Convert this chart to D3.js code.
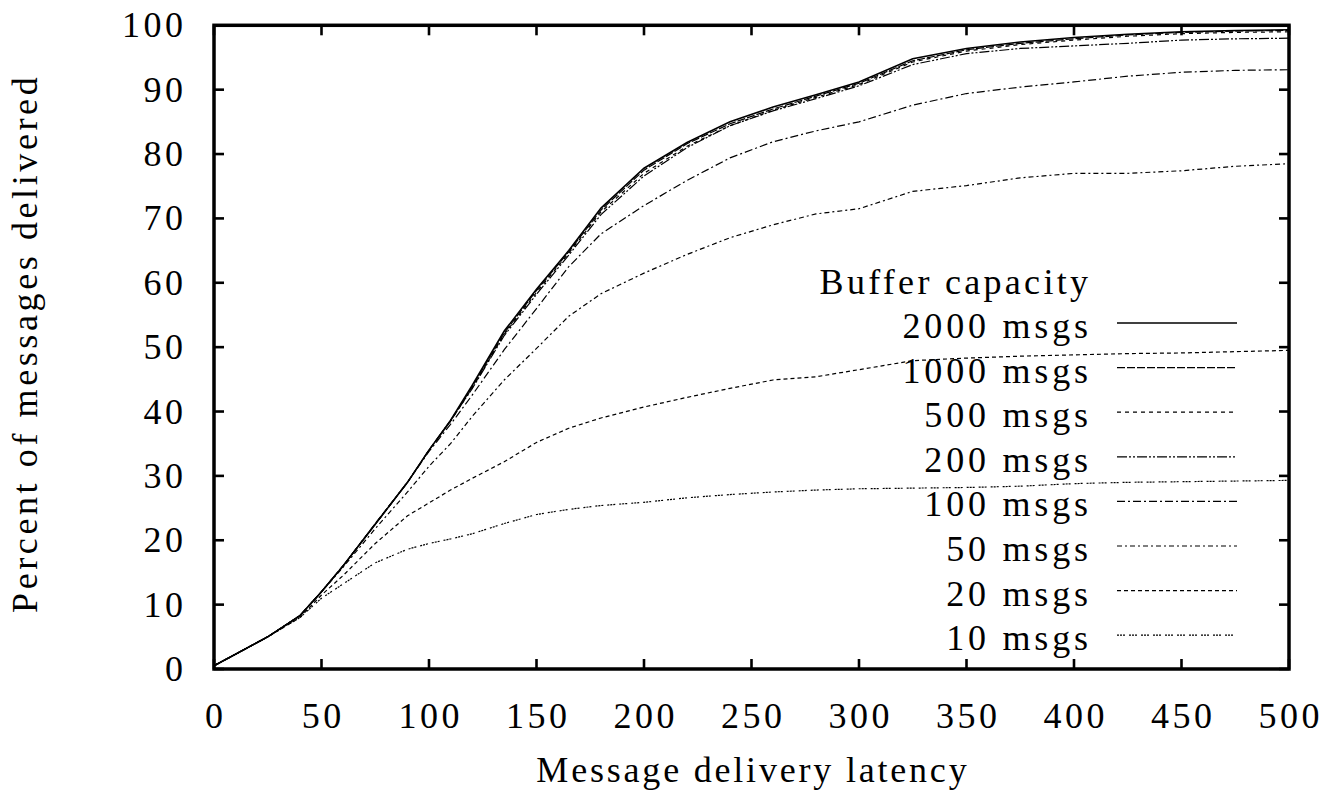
<!DOCTYPE html>
<html>
<head>
<meta charset="utf-8">
<script src="https://cdn.jsdelivr.net/npm/d3@7"></script>
<style>
  html, body { margin: 0; padding: 0; background: #fff; }
</style>
</head>
<body>
<svg id="chart" width="1335" height="804"></svg>
<script>
// ---- Data ----
const latency = [0, 10, 25, 40, 50, 60, 75, 90, 100, 110, 120, 135, 150, 165, 180, 200, 220, 240, 260, 280, 300, 325, 350, 375, 400, 425, 450, 475, 500];

const buf2000 = [0.5, 2.3, 5.0, 8.3, 12.0, 16.0, 22.5, 29.0, 34.0, 38.6, 44.0, 52.5, 59.0, 65.0, 71.6, 77.8, 81.8, 85.0, 87.3, 89.2, 91.2, 94.8, 96.4, 97.4, 98.1, 98.6, 99.0, 99.2, 99.3];
const buf1000 = [0.5, 2.3, 5.0, 8.3, 12.0, 16.0, 22.6, 29.0, 34.0, 38.5, 43.8, 52.2, 58.8, 64.8, 71.3, 77.5, 81.6, 84.7, 87.0, 89.0, 91.0, 94.5, 96.2, 97.2, 97.9, 98.5, 98.9, 99.1, 99.2];
const buf500  = [0.5, 2.3, 5.0, 8.3, 12.0, 16.0, 22.5, 29.0, 34.0, 38.5, 43.6, 52.0, 58.5, 64.6, 71.0, 77.0, 81.2, 84.4, 86.8, 88.8, 90.8, 94.3, 96.0, 97.0, 97.7, 98.3, 98.7, 98.9, 99.0];
const buf200  = [0.5, 2.3, 5.0, 8.3, 12.0, 16.0, 22.5, 29.0, 34.0, 38.6, 43.5, 51.8, 58.2, 64.3, 70.6, 76.6, 81.0, 84.4, 86.7, 88.6, 90.6, 93.9, 95.6, 96.4, 96.8, 97.2, 97.7, 97.9, 98.0];
const buf100  = [0.5, 2.3, 5.0, 8.3, 12.0, 16.0, 22.5, 29.0, 33.8, 38.0, 42.5, 49.6, 56.0, 62.5, 67.6, 72.0, 75.9, 79.4, 81.9, 83.6, 85.0, 87.6, 89.4, 90.4, 91.2, 92.1, 92.7, 93.0, 93.1];
const buf50   = [0.5, 2.3, 5.0, 8.3, 12.0, 15.8, 21.8, 27.5, 31.5, 35.0, 39.2, 44.9, 49.8, 54.8, 58.3, 61.5, 64.4, 67.0, 69.0, 70.7, 71.5, 74.2, 75.1, 76.3, 77.0, 77.0, 77.4, 78.1, 78.5];
const buf20   = [0.5, 2.3, 5.0, 8.0, 11.5, 14.5, 19.5, 23.8, 25.8, 27.8, 29.6, 32.2, 35.2, 37.4, 39.0, 40.7, 42.2, 43.6, 44.9, 45.4, 46.5, 47.9, 48.3, 48.6, 48.8, 49.0, 49.1, 49.3, 49.5];
const buf10   = [0.5, 2.3, 5.0, 8.0, 11.0, 13.2, 16.5, 18.6, 19.5, 20.2, 21.0, 22.6, 24.0, 24.8, 25.4, 25.9, 26.6, 27.1, 27.5, 27.8, 28.0, 28.1, 28.2, 28.4, 28.8, 29.0, 29.1, 29.2, 29.3];

const seriesNames = ["2000 msgs", "1000 msgs", "500 msgs", "200 msgs", "100 msgs", "50 msgs", "20 msgs", "10 msgs"];
const seriesValues = [buf2000, buf1000, buf500, buf200, buf100, buf50, buf20, buf10];
const xTicks = [0, 50, 100, 150, 200, 250, 300, 350, 400, 450, 500];
const yTicks = [0, 10, 20, 30, 40, 50, 60, 70, 80, 90, 100];
const legendTitle = "Buffer capacity";
const xTitle = "Message delivery latency";
const yTitle = "Percent of messages delivered";

(function () {
  // ---- Styles ----
  const dashes = [null, "8,2", "4,4", "10,2,2,2,2,2", "8,3,2,3", "5,3,2,3", "4,3", "2,1,2,1,2,4"];
  const FONT = '"Liberation Serif"';

  // ---- Layout ----
  const svg = d3.select("#chart");
  const pL = 214, pR = 1289, pT = 25.3, pB = 669;
  const x = d3.scaleLinear().domain([0, 500]).range([pL, pR]);
  const y = d3.scaleLinear().domain([0, 100]).range([pB, pT]);
  const fontSize = 36;

  svg.append("defs").append("clipPath").attr("id", "clip")
    .append("rect").attr("x", pL).attr("y", pT).attr("width", pR - pL).attr("height", pB - pT);

  // curves
  const line = d3.line().x(d => x(d[0])).y(d => y(d[1]));
  const gCurves = svg.append("g").attr("clip-path", "url(#clip)");
  seriesValues.forEach((vals, i) => {
    const pts = latency.map((t, k) => [t, vals[k]]);
    gCurves.append("path")
      .attr("d", line(pts))
      .attr("fill", "none")
      .attr("stroke", "#000")
      .attr("stroke-width", i === 0 ? 1.6 : 1.2)
      .attr("stroke-dasharray", dashes[i]);
  });

  // ticks (inward, mirrored)
  const tickLen = 10;
  const gT = svg.append("g").attr("stroke", "#000").attr("stroke-width", 2.6);
  xTicks.forEach(t => {
    gT.append("line").attr("x1", x(t)).attr("x2", x(t)).attr("y1", pB).attr("y2", pB - tickLen);
    gT.append("line").attr("x1", x(t)).attr("x2", x(t)).attr("y1", pT).attr("y2", pT + tickLen);
  });
  yTicks.forEach(v => {
    gT.append("line").attr("x1", pL).attr("x2", pL + tickLen).attr("y1", y(v)).attr("y2", y(v));
    gT.append("line").attr("x1", pR).attr("x2", pR - tickLen).attr("y1", y(v)).attr("y2", y(v));
  });

  // border
  svg.append("rect").attr("x", pL).attr("y", pT).attr("width", pR - pL).attr("height", pB - pT)
    .attr("fill", "none").attr("stroke", "#000").attr("stroke-width", 3.5);

  // text helper: serif font, widened by spreading glyphs with textLength
  function txt(sel, s, gap) {
    sel.style("font-family", FONT).attr("font-size", fontSize).attr("fill", "#000").text(s);
    const n = String(s).length;
    if (n > 1) {
      const w = sel.node().getComputedTextLength();
      sel.attr("textLength", w + (n - 1) * gap).attr("lengthAdjust", "spacing");
    }
    return sel;
  }

  // tick labels
  xTicks.forEach(t => {
    txt(svg.append("text").attr("x", x(t)).attr("y", 728).attr("text-anchor", "middle"), t, 3.5);
  });
  yTicks.forEach(v => {
    txt(svg.append("text").attr("x", 183).attr("y", y(v) + 12).attr("text-anchor", "end"), v, 3.5);
  });

  // axis titles
  txt(svg.append("text").attr("x", (pL + pR) / 2).attr("y", 782).attr("text-anchor", "middle"), xTitle, 2.8);
  txt(svg.append("text").attr("transform", `translate(37,${(pT + pB) / 2 - 2}) rotate(-90)`)
    .attr("text-anchor", "middle"), yTitle, 3.6);

  // legend
  const legTextX = 1088, legX1 = 1117, legX2 = 1237, rowH = 44.6, firstLineY = 323;
  txt(svg.append("text").attr("x", legTextX).attr("y", firstLineY - rowH + 16).attr("text-anchor", "end"), legendTitle, 3.3);
  seriesNames.forEach((name, i) => {
    const ly = firstLineY + i * rowH;
    txt(svg.append("text").attr("x", legTextX).attr("y", ly + 15).attr("text-anchor", "end"), name, 3.8);
    svg.append("line").attr("x1", legX1).attr("x2", legX2).attr("y1", ly).attr("y2", ly)
      .attr("stroke", "#000").attr("stroke-width", i === 0 ? 1.6 : 1.2)
      .attr("stroke-dasharray", dashes[i]);
  });
})();
</script>
</body>
</html>
